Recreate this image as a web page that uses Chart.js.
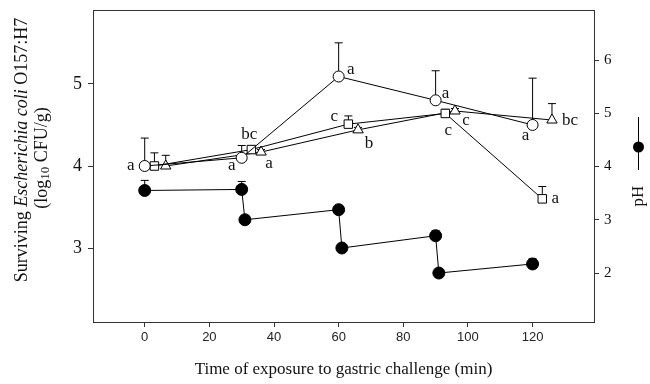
<!DOCTYPE html>
<html>
<head>
<meta charset="utf-8">
<script src="https://cdn.jsdelivr.net/npm/chart.js"></script>
<style>
  html, body { margin: 0; padding: 0; background: #fff; }
  #wrap { width: 650px; height: 384px; }
</style>
</head>
<body>
<div id="wrap"><canvas id="chart" width="650" height="384"></canvas></div>
<script>
// time of exposure (min); the three treatments are drawn slightly apart
const circleTime = [0, 30, 60, 90, 120];
const circleLog = [4.0, 4.1, 5.09, 4.8, 4.5];
const circleErr = [0.34, 0.15, 0.41, 0.36, 0.57];
const circleLetters = ['a', 'a', 'a', 'a', 'a'];

const squareTime = [3, 33, 63, 93, 123];
const squareLog = [4.0, 4.2, 4.51, 4.64, 3.6];
const squareErr = [0.16, 0.04, 0.1, 0.05, 0.15];
const squareLetters = [null, 'bc', 'c', 'c', 'a'];

const triangleTime = [6.5, 36, 66, 96, 126];
const triangleLog = [4.0, 4.17, 4.44, 4.67, 4.56];
const triangleErr = [0.13, 0.03, 0.03, 0.03, 0.2];
const triangleLetters = [null, 'a', 'b', 'c', 'bc'];

// gastric pH (right axis)
const phTime = [0, 30, 31, 60, 61, 90, 91, 120];
const phValue = [3.55, 3.57, 3.0, 3.19, 2.47, 2.7, 2.0, 2.17];
const phErr = [0.19, 0.15, 0, 0, 0, 0.1, 0, 0.1];

const xTicks = [0, 20, 40, 60, 80, 100, 120];
const logTicks = [3, 4, 5];
const phTicks = [2, 3, 4, 5, 6];

// where each letter sits relative to its marker (px)
const letterOffsets = {
  circle: [[-14, 0], [-10, 8], [12, -7], [10, -7], [-7, 11]],
  square: [null, [-2, -15], [-14, -8], [3, 17], [13, 0]],
  triangle: [null, [8, 11], [11, 14], [11, 10], [18, 1]]
};

const serif = '"Liberation Serif", "Times New Roman", serif';
const sans = '"Liberation Sans", Arial, sans-serif';
const ink = '#111';

function pts(xs, ys) {
  return xs.map((x, i) => ({ x: x, y: ys[i] }));
}

function fixTicks(list) {
  return function (scale) {
    scale.ticks = list.map(v => ({ value: v }));
  };
}

// keep the plot box where the figure has it
function fitY(width) {
  return function (scale) {
    scale.width = width;
    scale.paddingTop = 0;
    scale.paddingBottom = 0;
  };
}

// upward error bars with a cap, drawn under the markers
const errorBars = {
  id: 'errorBars',
  beforeDatasetsDraw(chart) {
    const ctx = chart.ctx;
    ctx.save();
    ctx.strokeStyle = '#000';
    ctx.lineWidth = 1;
    chart.data.datasets.forEach((ds, di) => {
      if (!ds.errUp) return;
      const meta = chart.getDatasetMeta(di);
      const yScale = chart.scales[ds.yAxisID];
      meta.data.forEach((pt, i) => {
        const e = ds.errUp[i];
        if (!e) return;
        const top = yScale.getPixelForValue(ds.data[i].y + e);
        ctx.beginPath();
        ctx.moveTo(pt.x, pt.y);
        ctx.lineTo(pt.x, top);
        ctx.moveTo(pt.x - 4, top);
        ctx.lineTo(pt.x + 4, top);
        ctx.stroke();
      });
    });
    ctx.restore();
  }
};

// letters, frame, axis titles and the pH key
const decorations = {
  id: 'decorations',
  afterDraw(chart) {
    const ctx = chart.ctx;
    const area = chart.chartArea;
    ctx.save();

    ctx.strokeStyle = '#333';
    ctx.lineWidth = 1;
    ctx.beginPath();
    ctx.moveTo(area.left, area.top + 0.5);
    ctx.lineTo(area.right, area.top + 0.5);
    ctx.stroke();

    // significance letters
    ctx.fillStyle = ink;
    ctx.font = '17px ' + serif;
    ctx.textAlign = 'center';
    ctx.textBaseline = 'middle';
    chart.data.datasets.forEach((ds, di) => {
      if (!ds.letters) return;
      const meta = chart.getDatasetMeta(di);
      ds.letters.forEach((txt, i) => {
        if (!txt) return;
        const off = letterOffsets[ds.key][i];
        const p = meta.data[i];
        ctx.fillText(txt, p.x + off[0], p.y + off[1]);
      });
    });

    // x axis title
    ctx.font = '17px ' + serif;
    ctx.fillText('Time of exposure to gastric challenge (min)', (area.left + area.right) / 2, 370);

    // left axis title, two lines with italics and a subscript
    drawRotated(ctx, 22, 150, [
      { t: 'Surviving ', f: '18px ' + serif, dy: 0 },
      { t: 'Escherichia coli', f: 'italic 18px ' + serif, dy: 0 },
      { t: ' O157:H7', f: '18px ' + serif, dy: 0 }
    ]);
    drawRotated(ctx, 42, 158, [
      { t: '(log', f: '18px ' + serif, dy: 0 },
      { t: '10', f: '13px ' + serif, dy: 4 },
      { t: ' CFU/g)', f: '18px ' + serif, dy: 0 }
    ]);

    // pH key on the right
    ctx.strokeStyle = '#000';
    ctx.beginPath();
    ctx.moveTo(638.5, 117);
    ctx.lineTo(638.5, 170);
    ctx.stroke();
    ctx.fillStyle = '#000';
    ctx.beginPath();
    ctx.arc(638.5, 147, 5.5, 0, Math.PI * 2);
    ctx.fill();
    drawRotated(ctx, 639, 196, [{ t: 'pH', f: '17px ' + serif, dy: 0 }]);

    ctx.restore();
  }
};

function drawRotated(ctx, cx, cy, parts) {
  ctx.save();
  ctx.translate(cx, cy);
  ctx.rotate(-Math.PI / 2);
  ctx.textAlign = 'left';
  ctx.textBaseline = 'middle';
  ctx.fillStyle = ink;
  let total = 0;
  parts.forEach(p => { ctx.font = p.f; p.w = ctx.measureText(p.t).width; total += p.w; });
  let x = -total / 2;
  parts.forEach(p => {
    ctx.font = p.f;
    ctx.fillText(p.t, x, p.dy);
    x += p.w;
  });
  ctx.restore();
}

const markerDefaults = {
  showLine: true,
  borderColor: '#000',
  borderWidth: 1,
  pointBorderColor: '#000',
  pointBorderWidth: 1,
  pointBackgroundColor: '#fff',
  tension: 0
};

new Chart(document.getElementById('chart'), {
  type: 'scatter',
  data: {
    datasets: [
      Object.assign({}, markerDefaults, {
        key: 'ph', data: pts(phTime, phValue), errUp: phErr, yAxisID: 'yPh',
        pointStyle: 'circle', pointRadius: 6, pointBackgroundColor: '#000'
      }),
      Object.assign({}, markerDefaults, {
        key: 'circle', data: pts(circleTime, circleLog), errUp: circleErr, letters: circleLetters,
        yAxisID: 'yLog', pointStyle: 'circle', pointRadius: 5.5
      }),
      Object.assign({}, markerDefaults, {
        key: 'square', data: pts(squareTime, squareLog), errUp: squareErr, letters: squareLetters,
        yAxisID: 'yLog', pointStyle: 'rect', pointRadius: 6
      }),
      Object.assign({}, markerDefaults, {
        key: 'triangle', data: pts(triangleTime, triangleLog), errUp: triangleErr, letters: triangleLetters,
        yAxisID: 'yLog', pointStyle: 'triangle', pointRadius: 6
      })
    ]
  },
  options: {
    responsive: false,
    animation: false,
    layout: { padding: { top: 10, left: 0, right: 0, bottom: 0 } },
    plugins: { legend: { display: false }, tooltip: { enabled: false } },
    scales: {
      x: {
        type: 'linear', position: 'bottom', min: -16, max: 139,
        afterBuildTicks: fixTicks(xTicks),
        afterFit(scale) { scale.height = 62; scale.paddingLeft = 0; scale.paddingRight = 0; },
        grid: { drawOnChartArea: false, drawTicks: true, tickLength: 5, color: '#333' },
        border: { display: true, color: '#333', width: 1 },
        ticks: { color: '#222', font: { family: sans, size: 13 }, padding: 3, maxRotation: 0 }
      },
      yLog: {
        type: 'linear', position: 'left', min: 2.1, max: 5.9,
        afterBuildTicks: fixTicks(logTicks),
        afterFit: fitY(93),
        grid: { drawOnChartArea: false, drawTicks: true, tickLength: 5, color: '#333' },
        border: { display: true, color: '#333', width: 1 },
        ticks: { color: ink, font: { family: serif, size: 18 }, padding: 6 }
      },
      yPh: {
        type: 'linear', position: 'right', min: 1.08, max: 6.94,
        afterBuildTicks: fixTicks(phTicks),
        afterFit: fitY(56),
        grid: { drawOnChartArea: false, drawTicks: true, tickLength: 5, color: '#333' },
        border: { display: true, color: '#333', width: 1 },
        ticks: { color: ink, font: { family: serif, size: 15 }, padding: 5 }
      }
    }
  },
  plugins: [errorBars, decorations]
});
</script>
</body>
</html>
